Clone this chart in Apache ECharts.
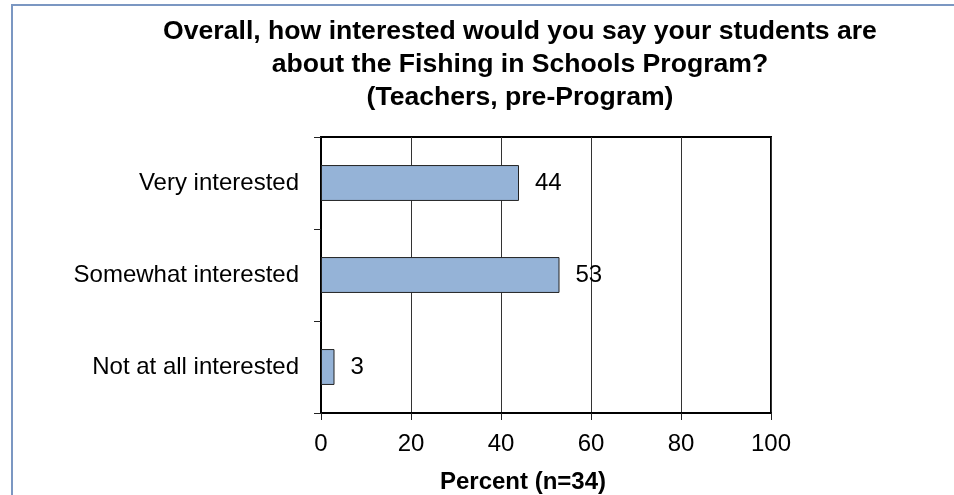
<!DOCTYPE html>
<html><head><meta charset="utf-8">
<script src="https://cdn.jsdelivr.net/npm/echarts@6/dist/echarts.min.js"></script>
<style>html,body{margin:0;padding:0;background:#fff}#c{width:954px;height:495px}</style>
</head><body><div id="c"></div>
<script>
const categories = ['Very interested', 'Somewhat interested', 'Not at all interested'];
const values = [44, 53, 3];
const xTicks = [0, 20, 40, 60, 80, 100];
const titleLines = ['Overall, how interested would you say your students are', 'about the Fishing in Schools Program?', '(Teachers, pre-Program)'];
const axisTitle = 'Percent (n=34)';

const FONT = '"Liberation Sans", Arial, sans-serif';
const chart = echarts.init(document.getElementById('c'), null, {renderer: 'canvas'});
chart.setOption({
  animation: false,
  backgroundColor: '#fff',
  graphic: [
    {type: 'rect', shape: {x: 12, y: 5, width: 1000, height: 1000}, style: {fill: 'none', stroke: '#7b97c2', lineWidth: 2}},
    {type: 'text', x: 520, y: 15, style: {text: titleLines.join('\n'), font: 'bold 26.6px ' + FONT, fill: '#000', textAlign: 'center', lineHeight: 33}},
    {type: 'text', x: 523, y: 470, style: {text: axisTitle, font: 'bold 24px ' + FONT, fill: '#000', textAlign: 'center'}}
  ],
  grid: {left: 321, right: 183, top: 137, bottom: 82, show: true, borderColor: '#000', borderWidth: 2, backgroundColor: 'transparent'},
  xAxis: {
    type: 'value', min: xTicks[0], max: xTicks[xTicks.length - 1], interval: 20,
    axisLine: {show: true, lineStyle: {color: '#000', width: 2}},
    axisTick: {show: true, length: 7, lineStyle: {color: '#222', width: 1}},
    splitLine: {show: true, lineStyle: {color: '#333', width: 1}},
    axisLabel: {fontFamily: FONT, fontSize: 24, color: '#000', margin: 19}
  },
  yAxis: {
    type: 'category', data: categories, inverse: true,
    axisLine: {show: true, lineStyle: {color: '#000', width: 2}},
    axisTick: {show: true, length: 7, lineStyle: {color: '#222', width: 1}},
    axisLabel: {fontFamily: FONT, fontSize: 24, color: '#000', margin: 22, padding: [4, 0, 0, 0]}
  },
  series: [{
    type: 'bar', data: values, barWidth: '39%',
    itemStyle: {color: '#95b3d7', borderColor: '#222', borderWidth: 1},
    label: {show: true, position: 'right', distance: 16, fontFamily: FONT, fontSize: 24, color: '#000', padding: [4, 0, 0, 0]}
  }]
});
</script></body></html>
